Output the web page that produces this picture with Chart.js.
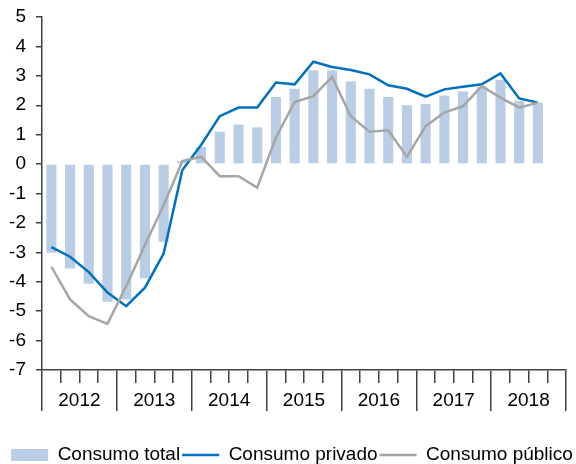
<!DOCTYPE html>
<html>
<head>
<meta charset="utf-8">
<script src="https://cdn.jsdelivr.net/npm/chart.js@4/dist/chart.umd.min.js"></script>
<style>
  html, body { margin: 0; padding: 0; background: #fff; }
  canvas { display: block; }
</style>
</head>
<body>
<canvas id="c" width="576" height="464"></canvas>
<script>
// Quarterly categories 2012 T1 .. 2018 T4
const years = ['2012', '2013', '2014', '2015', '2016', '2017', '2018'];
const quarters = ['T1', 'T2', 'T3', 'T4'];
const categories = [];
years.forEach(y => quarters.forEach(q => categories.push(y + ' ' + q)));

const consumoTotal = [-3.01, -3.55, -4.07, -4.68, -4.60, -3.88, -2.64, 0.10,
                      0.58, 1.10, 1.34, 1.25, 2.28, 2.56, 3.19, 3.19,
                      2.81, 2.56, 2.28, 2.00, 2.04, 2.33, 2.47, 2.63,
                      2.86, 2.14, 2.09, null];
const consumoPrivado = [-2.82, -3.15, -3.67, -4.37, -4.83, -4.20, -3.04, -0.20,
                        0.65, 1.63, 1.92, 1.92, 2.77, 2.71, 3.48, 3.30,
                        3.20, 3.05, 2.68, 2.56, 2.29, 2.54, 2.63, 2.71,
                        3.08, 2.23, 2.09, null];
const consumoPublico = [-3.49, -4.60, -5.17, -5.43, -4.15, -2.75, -1.40, 0.10,
                        0.25, -0.41, -0.41, -0.80, 0.90, 2.11, 2.31, 2.96,
                        1.63, 1.10, 1.15, 0.25, 1.29, 1.75, 1.97, 2.65,
                        2.26, 1.92, 2.09, null];

const yMin = -7, yMax = 5, yStep = 1;

Chart.defaults.font.family = "'Liberation Sans', Arial, sans-serif";
Chart.defaults.font.size = 19;
Chart.defaults.color = '#000';

const axisColor = '#404040';

new Chart(document.getElementById('c'), {
  data: {
    labels: categories,
    datasets: [
      {
        type: 'bar', label: 'Consumo total', data: consumoTotal,
        backgroundColor: '#B9CDE5', borderWidth: 0,
        barPercentage: 0.54, categoryPercentage: 1.0,
        pointStyle: 'rect', order: 2, xAxisID: 'x', yAxisID: 'y'
      },
      {
        type: 'line', label: 'Consumo privado', data: consumoPrivado,
        borderColor: '#0070C0', backgroundColor: '#0070C0', borderWidth: 2.5,
        pointRadius: 0, tension: 0, pointStyle: 'line', order: 1,
        xAxisID: 'x', yAxisID: 'y'
      },
      {
        type: 'line', label: 'Consumo público', data: consumoPublico,
        borderColor: '#A6A6A6', backgroundColor: '#A6A6A6', borderWidth: 2.5,
        pointRadius: 0, tension: 0, pointStyle: 'line', order: 0,
        xAxisID: 'x', yAxisID: 'y'
      }
    ]
  },
  options: {
    responsive: false,
    animation: false,
    devicePixelRatio: 1,
    layout: { padding: { left: 8, right: 0, top: 17, bottom: -10.4 } },
    plugins: {
      tooltip: { enabled: false },
      legend: {
        position: 'bottom',
        reverse: true,
        labels: {
          usePointStyle: true,
          pointStyleWidth: 37,
          boxHeight: 12,
          padding: 2,
          color: '#000',
          font: { size: 19 }
        }
      }
    },
    scales: {
      x: {
        type: 'category',
        position: 'bottom',
        offset: true,
        grid: { offset: true, drawOnChartArea: false, tickLength: 13, color: axisColor, lineWidth: 1.5 },
        border: { display: true, color: axisColor, width: 1.5 },
        ticks: { display: false }
      },
      x2: {
        type: 'category',
        position: 'bottom',
        labels: years,
        offset: true,
        grid: { offset: true, drawOnChartArea: false, tickLength: 28, color: axisColor, lineWidth: 1.5 },
        border: { display: false },
        ticks: { padding: -22, maxRotation: 0, autoSkip: false, color: '#000', font: { size: 19 } },
        afterFit: (s) => { s.height = 60.4; }
      },
      y: {
        type: 'linear',
        position: 'left',
        min: yMin, max: yMax,
        ticks: { stepSize: yStep, padding: 10, color: '#000', font: { size: 19, lineHeight: 0.7 } },
        grid: { drawOnChartArea: false, tickLength: 6, color: axisColor, lineWidth: 1.5 },
        border: { display: true, color: axisColor, width: 1.5 },
        afterFit: (s) => { s.width = 34; }
      },
      yRight: {
        type: 'linear',
        position: 'right',
        display: true,
        min: yMin, max: yMax,
        ticks: { display: false },
        grid: { display: false },
        border: { display: false },
        afterFit: (s) => { s.width = 10; }
      }
    }
  }
});
</script>
</body>
</html>
